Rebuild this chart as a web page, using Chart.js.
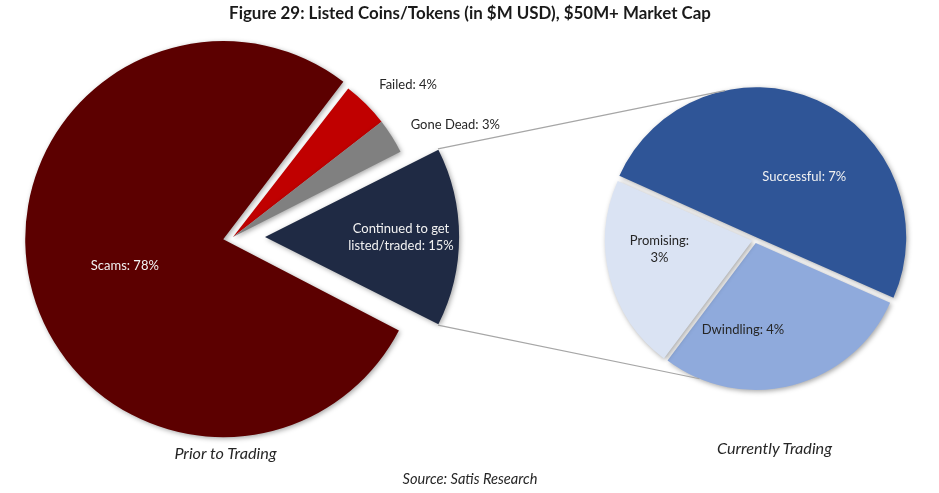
<!DOCTYPE html>
<html>
<head>
<meta charset="utf-8">
<script src="https://cdn.jsdelivr.net/npm/chart.js@4.4.1/dist/chart.umd.min.js"></script>
<style>
    html, body { margin: 0; padding: 0; background: #fff; }
    #wrap { position: relative; width: 939px; height: 493px; overflow: hidden; font-family: Lato, "Open Sans", sans-serif; }
    #wrap canvas { position: absolute; left: 0; top: 0; }
    .txt { position: absolute; white-space: nowrap; transform: translate(-50%, -50%); color: #1a1a1a; }
    #title { left: 470px; top: 12px; font-weight: bold; font-size: 16.9px; }
    .sub { font-style: italic; font-size: 16.2px; color: #262626; }
    #priorCap { left: 225.5px; top: 452px; }
    #currentCap { left: 774.5px; top: 447px; }
    #source { left: 470px; top: 478px; font-size: 14.6px; }
</style>
</head>
<body>
<div id="wrap">
    <canvas id="prior" width="939" height="493"></canvas>
    <canvas id="current" width="939" height="493"></canvas>
    <div class="txt" id="title">Figure 29: Listed Coins/Tokens (in $M USD), $50M+ Market Cap</div>
    <div class="txt sub" id="priorCap">Prior to Trading</div>
    <div class="txt sub" id="currentCap">Currently Trading</div>
    <div class="txt sub" id="source">Source: Satis Research</div>
</div>
<script>
// data
const priorLabels = ['Failed', 'Gone Dead', 'Continued to get\nlisted/traded', 'Scams'];
const priorValues = [4, 3, 15, 78];
const currentLabels = ['Successful', 'Dwindling', 'Promising'];
const currentValues = [7, 4, 3];

const priorColors = ['#c00000', '#808080', '#1f2a44', '#5c0000'];
const currentColors = ['#2f5597', '#8faadc', '#dae3f3'];

// label spots: angle (deg, clockwise from east) and distance from pie centre
const priorSpots = [
    { angle: -41, r: 232, color: '#262626' },
    { angle: -26.8, r: 249, color: '#262626' },
    { angle: 0, r: 168, color: '#f2f2f2' },
    { angle: 165, r: 112, color: '#f2f2f2' }
];
const currentSpots = [
    { angle: -52, r: 80, color: '#f2f2f2' },
    { angle: 97.6, r: 91, color: '#262626' },
    { angle: 174.6, r: 96, color: '#262626', breakAfterColon: true }
];

const W = 939, H = 493;

function padFor(cx, cy) {
    // place the chart area so its centre falls on (cx, cy)
    const l = Math.max(0, 2 * cx - W), r = Math.max(0, W - 2 * cx);
    const t = Math.max(0, 2 * cy - H), b = Math.max(0, H - 2 * cy);
    return { left: l, right: r, top: t, bottom: b };
}

// where an arc is really drawn, offset included (same math as ArcElement.draw)
function arcGeom(arc) {
    const p = arc.getProps(['x', 'y', 'startAngle', 'endAngle', 'outerRadius', 'circumference'], true);
    const off = (arc.options.offset || 0) / 4;
    const mid = (p.startAngle + p.endAngle) / 2;
    const fix = 1 - Math.sin(Math.min(Math.PI, p.circumference || 0));
    return {
        x: p.x, y: p.y,
        cx: p.x + Math.cos(mid) * off,
        cy: p.y + Math.sin(mid) * off,
        r: p.outerRadius + off * fix,
        start: p.startAngle, end: p.endAngle
    };
}

function sliceLabels(spots) {
    return {
        id: 'sliceLabels',
        beforeDatasetsDraw(chart) {
            const ctx = chart.ctx;
            ctx.save();
            ctx.shadowColor = 'rgba(0,0,0,0.35)';
            ctx.shadowBlur = 5;
            ctx.shadowOffsetX = 1.5;
            ctx.shadowOffsetY = 1.5;
        },
        afterDatasetsDraw(chart) {
            const ctx = chart.ctx;
            ctx.restore();
            const meta = chart.getDatasetMeta(0);
            const labels = chart.data.labels;
            const values = chart.data.datasets[0].data;
            ctx.save();
            ctx.font = '13px Lato, "Open Sans", sans-serif';
            ctx.textAlign = 'center';
            ctx.textBaseline = 'middle';
            meta.data.forEach((arc, i) => {
                const s = spots[i];
                const g = arcGeom(arc);
                const a = s.angle * Math.PI / 180;
                const x = g.x + Math.cos(a) * s.r;
                const y = g.y + Math.sin(a) * s.r;
                let text = labels[i] + ': ' + values[i] + '%';
                if (s.breakAfterColon) text = text.replace(': ', ':\n');
                const lines = text.split('\n');
                ctx.fillStyle = s.color;
                lines.forEach((ln, k) => {
                    ctx.fillText(ln, x, y + (k - (lines.length - 1) / 2) * 17);
                });
            });
            ctx.restore();
        }
    };
}

function pieConfig(labels, values, colors, offsets, radius, rotation, pad, spots, extra) {
    return {
        type: 'pie',
        data: {
            labels: labels,
            datasets: [{
                data: values,
                backgroundColor: colors,
                borderWidth: 0,
                offset: offsets
            }]
        },
        options: {
            responsive: false,
            animation: false,
            events: [],
            radius: radius,
            rotation: rotation,
            layout: { padding: pad },
            plugins: {
                legend: { display: false },
                tooltip: { enabled: false }
            }
        },
        plugins: [sliceLabels(spots)].concat(extra || [])
    };
}

const priorChart = new Chart(document.getElementById('prior').getContext('2d'),
    pieConfig(priorLabels, priorValues, priorColors, [0, 0, 128, 40], 188, 37.8, padFor(233, 237), priorSpots));

// lines from the "continued" slice of the first pie to the second pie
const connectors = {
    id: 'connectors',
    afterDraw(chart) {
        const src = arcGeom(priorChart.getDatasetMeta(0).data[2]);
        const meta = chart.getDatasetMeta(0);
        const top = arcGeom(meta.data[0]);
        const bottom = arcGeom(meta.data[1]);
        const ta = 258 * Math.PI / 180, ba = 112.5 * Math.PI / 180;
        const ctx = chart.ctx;
        ctx.save();
        ctx.strokeStyle = '#a6a6a6';
        ctx.lineWidth = 1.2;
        ctx.beginPath();
        ctx.moveTo(src.cx + Math.cos(src.start) * src.r, src.cy + Math.sin(src.start) * src.r);
        ctx.lineTo(top.cx + Math.cos(ta) * top.r, top.cy + Math.sin(ta) * top.r);
        ctx.moveTo(src.cx + Math.cos(src.end) * src.r, src.cy + Math.sin(src.end) * src.r);
        ctx.lineTo(bottom.cx + Math.cos(ba) * bottom.r, bottom.cy + Math.sin(ba) * bottom.r);
        ctx.stroke();
        ctx.restore();
    }
};

const currentChart = new Chart(document.getElementById('current').getContext('2d'),
    pieConfig(currentLabels, currentValues, currentColors, [12, 12, 12], 147, 294, padFor(755, 240), currentSpots, [connectors]));
</script>
</body>
</html>
